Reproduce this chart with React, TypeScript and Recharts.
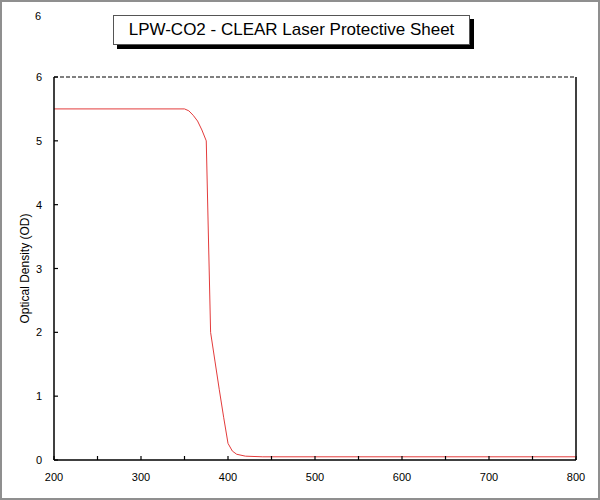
import { LineChart, Line, XAxis, YAxis, ReferenceLine } from 'recharts'

// wavelength (nm) and optical density
const wavelengths = [200, 350, 355, 360, 365, 370, 375, 380, 385, 390, 395, 400, 405, 410, 420, 440, 500, 600, 700, 800]
const density = [5.5, 5.5, 5.47, 5.4, 5.31, 5.17, 5.0, 2.0, 1.55, 1.1, 0.67, 0.26, 0.14, 0.09, 0.06, 0.05, 0.05, 0.05, 0.05, 0.05]

const xTicks = [200, 250, 300, 350, 400, 450, 500, 550, 600, 650, 700, 750, 800]
const yTicks = [0, 1, 2, 3, 4, 5, 6]

const title = 'LPW-CO2 - CLEAR Laser Protective Sheet'
const yTitle = 'Optical Density (OD)'

const data = wavelengths.map((nm, i) => ({ nm, od: density[i] }))

const font = '"Liberation Sans", Arial, sans-serif'

function XTick({ x, y, payload }: any) {
  const v = payload.value
  return (
    <g>
      <line x1={x} x2={x} y1={y} y2={y - 4} stroke="#000" strokeWidth={1.2} />
      {v % 100 === 0 && (
        <text x={x} y={y + 21} textAnchor="middle" fontSize={11} fontFamily={font} fill="#000">
          {v}
        </text>
      )}
    </g>
  )
}

function YTick({ x, y, payload }: any) {
  return (
    <g>
      <line x1={x} x2={x + 4} y1={y} y2={y} stroke="#000" strokeWidth={1.2} />
      <text x={x - 12} y={y + 4} textAnchor="end" fontSize={11} fontFamily={font} fill="#000">
        {payload.value}
      </text>
    </g>
  )
}

function YTitle({ viewBox }: any) {
  const cy = viewBox.y + viewBox.height / 2
  return (
    <text x={29} y={cy} transform={`rotate(-90 29 ${cy})`} textAnchor="middle" fontSize={12} fontFamily={font} fill="#000">
      {yTitle}
    </text>
  )
}

export default function App() {
  return (
    <div style={{ position: 'absolute', left: 0, top: 0, width: 600, height: 500, background: '#fff' }}>
      <LineChart width={600} height={500} data={data} margin={{ top: 77, right: 24, bottom: 10, left: 24 }}>
        <XAxis
          type="number"
          dataKey="nm"
          domain={[200, 800]}
          ticks={xTicks}
          tick={<XTick />}
          tickSize={0}
          tickMargin={0}
          tickLine={false}
          height={30}
          axisLine={{ stroke: '#000', strokeWidth: 1.5 }}
        />
        <YAxis
          type="number"
          domain={[0, 6]}
          ticks={yTicks}
          tick={<YTick />}
          tickSize={0}
          tickMargin={0}
          tickLine={false}
          width={30}
          axisLine={{ stroke: '#000', strokeWidth: 1.5 }}
          label={{ content: <YTitle /> }}
        />
        <ReferenceLine y={6} stroke="#000" strokeDasharray="4 2" strokeWidth={1} />
        <ReferenceLine x={800} stroke="#000" strokeWidth={1.5} />
        <Line
          type="linear"
          dataKey="od"
          stroke="#e33b3b"
          strokeWidth={1}
          dot={false}
          activeDot={false}
          isAnimationActive={false}
        />
      </LineChart>

      <div style={{ position: 'absolute', left: 32, top: 10, width: 12, textAlign: 'center', fontSize: 11, fontFamily: font }}>
        6
      </div>

      <div
        style={{
          position: 'absolute',
          left: 113,
          top: 15,
          width: 355,
          height: 28,
          border: '1px solid #555',
          background: '#fff',
          boxShadow: '4px 4px 0 #000',
          fontFamily: font,
          fontSize: 17,
          lineHeight: '28px',
          textAlign: 'center',
        }}
      >
        {title}
      </div>

      <div
        style={{
          position: 'absolute',
          inset: 0,
          border: '2px solid #8f8f8f',
          pointerEvents: 'none',
        }}
      />
    </div>
  )
}
